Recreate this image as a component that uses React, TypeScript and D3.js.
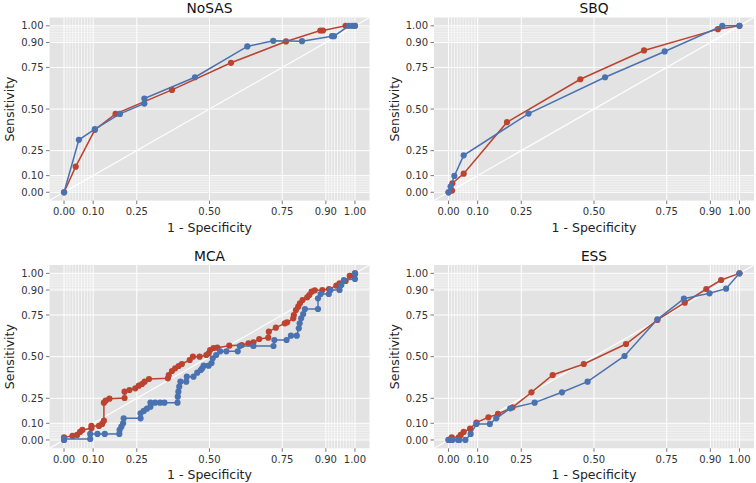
import React from "react";
import * as d3 from "d3";

const titles = ["NoSAS", "SBQ", "MCA", "ESS"];
const tickValues = [0, 0.1, 0.25, 0.5, 0.75, 0.9, 1.0];
const tickLabels = ["0.00", "0.10", "0.25", "0.50", "0.75", "0.90", "1.00"];
const xLabel = "1 - Specificity";
const yLabel = "Sensitivity";

type P = [number, number];

const noSasBlue: P[] = [[0,0],[0.051,0.315],[0.106,0.379],[0.192,0.471],[0.276,0.533],[0.276,0.563],[0.45,0.691],[0.63,0.876],[0.719,0.91],[0.818,0.908],[0.921,0.938],[0.928,0.938],[0.979,1],[0.99,1],[1,1]];
const noSasRed: P[] = [[0,0],[0.04,0.154],[0.106,0.375],[0.177,0.471],[0.371,0.615],[0.574,0.778],[0.763,0.906],[0.881,0.972],[0.89,0.972],[0.968,1],[1,1]];

const sbqBlue: P[] = [[0,0],[0.007,0.034],[0.02,0.098],[0.052,0.222],[0.275,0.473],[0.538,0.691],[0.743,0.846],[0.941,1],[1,1]];
const sbqRed: P[] = [[0,0],[0.012,0.01],[0.013,0.054],[0.052,0.112],[0.201,0.421],[0.453,0.679],[0.672,0.852],[0.926,0.98],[1,1]];

const mcaBlue: P[] = [[0,0],[0,0.006],[0.09,0.006],[0.09,0.036],[0.115,0.036],[0.14,0.036],[0.19,0.036],[0.191,0.06],[0.197,0.08],[0.203,0.1],[0.205,0.13],[0.263,0.13],[0.263,0.16],[0.274,0.174],[0.285,0.188],[0.297,0.2],[0.297,0.224],[0.313,0.224],[0.33,0.224],[0.345,0.224],[0.39,0.224],[0.391,0.26],[0.393,0.29],[0.396,0.32],[0.4,0.35],[0.42,0.35],[0.422,0.38],[0.445,0.38],[0.458,0.404],[0.47,0.42],[0.475,0.43],[0.48,0.446],[0.497,0.446],[0.507,0.462],[0.511,0.49],[0.523,0.51],[0.537,0.532],[0.558,0.532],[0.597,0.532],[0.604,0.564],[0.651,0.564],[0.72,0.564],[0.723,0.6],[0.765,0.6],[0.78,0.626],[0.8,0.626],[0.807,0.67],[0.81,0.7],[0.815,0.73],[0.822,0.756],[0.828,0.786],[0.873,0.786],[0.873,0.85],[0.882,0.876],[0.91,0.876],[0.916,0.9],[0.947,0.9],[0.953,0.93],[0.962,0.96],[1,0.966],[1,1]];
const mcaRed: P[] = [[0,0],[0,0.016],[0.029,0.024],[0.045,0.03],[0.055,0.048],[0.063,0.06],[0.094,0.07],[0.094,0.084],[0.12,0.084],[0.131,0.096],[0.137,0.116],[0.137,0.224],[0.143,0.236],[0.156,0.248],[0.208,0.252],[0.208,0.29],[0.225,0.3],[0.245,0.31],[0.257,0.326],[0.268,0.336],[0.277,0.35],[0.292,0.366],[0.357,0.37],[0.36,0.39],[0.371,0.414],[0.382,0.43],[0.394,0.444],[0.405,0.456],[0.432,0.48],[0.443,0.5],[0.466,0.5],[0.489,0.51],[0.497,0.52],[0.502,0.54],[0.514,0.552],[0.527,0.554],[0.568,0.566],[0.611,0.57],[0.634,0.58],[0.651,0.586],[0.671,0.606],[0.702,0.614],[0.704,0.65],[0.728,0.674],[0.759,0.7],[0.767,0.706],[0.788,0.73],[0.79,0.75],[0.797,0.78],[0.805,0.8],[0.811,0.82],[0.82,0.84],[0.836,0.856],[0.843,0.87],[0.851,0.89],[0.862,0.898],[0.888,0.9],[0.911,0.906],[0.936,0.926],[0.947,0.94],[0.968,0.954],[0.982,0.985],[0.995,0.985],[1,0.994],[1,1]];

const essBlue: P[] = [[0,0],[0.005,0],[0.013,0],[0.033,0],[0.037,0],[0.058,0],[0.076,0.036],[0.096,0.096],[0.142,0.096],[0.164,0.13],[0.212,0.19],[0.296,0.224],[0.39,0.286],[0.478,0.35],[0.605,0.504],[0.718,0.724],[0.809,0.848],[0.897,0.88],[0.954,0.908],[1,1]];
const essRed: P[] = [[0,0],[0.011,0.016],[0.035,0.016],[0.042,0.03],[0.052,0.048],[0.074,0.068],[0.096,0.104],[0.137,0.136],[0.17,0.156],[0.22,0.196],[0.285,0.286],[0.358,0.39],[0.465,0.456],[0.61,0.576],[0.718,0.72],[0.812,0.824],[0.886,0.906],[0.937,0.96],[1,1]];

const blueSeries = [noSasBlue, sbqBlue, mcaBlue, essBlue];
const redSeries = [noSasRed, sbqRed, mcaRed, essRed];

const BLUE = "#4a72b0";
const RED = "#bb4330";
const BG = "#e3e3e3";
const FONT = "DejaVu Sans, sans-serif";

const colX = [[49.5, 369.5], [434, 754]];
const rowY = [[17.5, 200.6], [265, 448.3]];

const minor = [...d3.range(0.01, 0.0999, 0.01), ...d3.range(0.91, 0.9999, 0.01)];

function Panel({ idx }: { idx: number }) {
  const col = idx % 2;
  const row = Math.floor(idx / 2);
  const [x0, x1] = colX[col];
  const [y0, y1] = rowY[row];
  const x = d3.scaleLinear().domain([-0.05, 1.05]).range([x0, x1]);
  const y = d3.scaleLinear().domain([-0.05, 1.05]).range([y1, y0]);
  const line = d3.line<P>().x((d) => x(d[0])).y((d) => y(d[1]));
  const series = [
    { data: redSeries[idx], color: RED },
    { data: blueSeries[idx], color: BLUE },
  ];
  return (
    <g>
      <rect x={x0} y={y0} width={x1 - x0} height={y1 - y0} fill={BG} />
      {minor.map((v, i) => (
        <g key={"m" + i}>
          <line x1={x(v)} x2={x(v)} y1={y0} y2={y1} stroke="#fff" strokeWidth={0.8} strokeOpacity={0.8} />
          <line x1={x0} x2={x1} y1={y(v)} y2={y(v)} stroke="#fff" strokeWidth={0.8} strokeOpacity={0.65} />
        </g>
      ))}
      {tickValues.map((v, i) => (
        <g key={"g" + i}>
          <line x1={x(v)} x2={x(v)} y1={y0} y2={y1} stroke="#fff" strokeWidth={1} />
          <line x1={x0} x2={x1} y1={y(v)} y2={y(v)} stroke="#fff" strokeWidth={1} />
        </g>
      ))}
      <line x1={x0} y1={y1} x2={x1} y2={y0} stroke="#fff" strokeWidth={1.1} />
      {series.map((s, si) => (
        <g key={"s" + si}>
          <path d={line(s.data) || ""} fill="none" stroke={s.color} strokeWidth={1.5} />
          {s.data.map((d, i) => (
            <circle key={i} cx={x(d[0])} cy={y(d[1])} r={3.1} fill={s.color} />
          ))}
        </g>
      ))}
      {tickValues.map((v, i) => (
        <g key={"t" + i} fontFamily={FONT} fontSize={10} fill="#333">
          <line x1={x(v)} x2={x(v)} y1={y1} y2={y1 + 3.5} stroke="#555" strokeWidth={0.8} />
          <text x={x(v)} y={y1 + 14.5} textAnchor="middle">{tickLabels[i]}</text>
          <line x1={x0 - 3.5} x2={x0} y1={y(v)} y2={y(v)} stroke="#555" strokeWidth={0.8} />
          <text x={x0 - 6} y={y(v) + 3.6} textAnchor="end">{tickLabels[i]}</text>
        </g>
      ))}
      <text x={(x0 + x1) / 2} y={y0 - 4.2} textAnchor="middle" fontFamily={FONT} fontSize={13.8} fill="#111">{titles[idx]}</text>
      <text x={(x0 + x1) / 2} y={y1 + 31} textAnchor="middle" fontFamily={FONT} fontSize={12.5} fill="#222">{xLabel}</text>
      <text transform={`translate(${x0 - 35.5},${(y0 + y1) / 2}) rotate(-90)`} textAnchor="middle" fontFamily={FONT} fontSize={12.5} fill="#222">{yLabel}</text>
    </g>
  );
}

export default function App() {
  return (
    <svg width={756} height={483} style={{ position: "absolute", left: 0, top: 0, background: "#fff" }}>
      {[0, 1, 2, 3].map((i) => (
        <Panel key={i} idx={i} />
      ))}
    </svg>
  );
}
